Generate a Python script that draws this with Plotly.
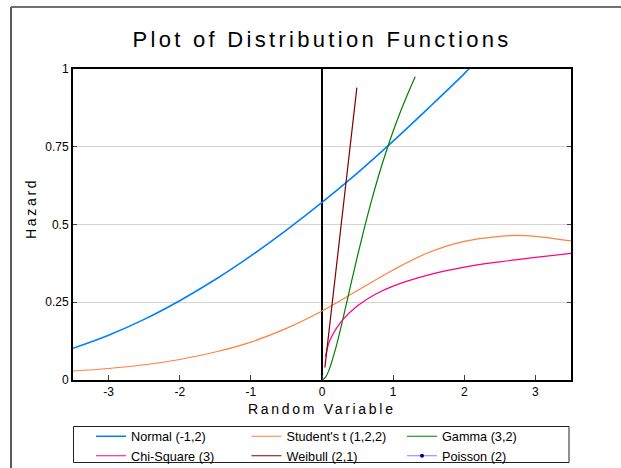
import plotly.graph_objects as go

# ---- data ----
normal_x = [-3.5, -3.0, -2.5, -2.0, -1.5, -1.0, -0.5, 0.0, 0.5, 1.0, 1.5, 2.0, 2.1]
normal_y = [0.102, 0.144, 0.195, 0.255, 0.323, 0.399, 0.482, 0.571, 0.666, 0.768, 0.875, 0.985, 1.01]

student_x = [-3.5, -3.0, -2.5, -2.0, -1.5, -1.0, -0.5, 0.0, 0.5, 1.0, 1.5, 2.0, 2.5, 2.75, 3.0, 3.5]
student_y = [0.029, 0.037, 0.049, 0.066, 0.090, 0.122, 0.166, 0.222, 0.288, 0.354, 0.410, 0.446, 0.462, 0.465, 0.462, 0.447]

gamma_x = [0.0, 0.05, 0.1, 0.2, 0.3, 0.4, 0.5, 0.6, 0.7, 0.8, 0.9, 1.0, 1.1, 1.2, 1.31]
gamma_y = [0.0, 0.009, 0.033, 0.108, 0.202, 0.302, 0.400, 0.493, 0.580, 0.660, 0.733, 0.800, 0.861, 0.917, 0.975]

chisq_x = [0.05, 0.1, 0.2, 0.3, 0.5, 0.75, 1.0, 1.5, 2.0, 2.5, 3.0, 3.5]
chisq_y = [0.075, 0.121, 0.165, 0.196, 0.239, 0.276, 0.302, 0.338, 0.363, 0.380, 0.394, 0.407]

weibull_x = [0.04, 0.1, 0.2, 0.3, 0.4, 0.49]
weibull_y = [0.04, 0.16, 0.36, 0.56, 0.76, 0.94]

poisson_x = [None]
poisson_y = [None]

x_ticks = [-3, -2, -1, 0, 1, 2, 3]
x_tick_text = ["-3", "-2", "-1", "0", "1", "2", "3"]
y_ticks = [0, 0.25, 0.5, 0.75, 1]
y_tick_text = ["0", "0.25", "0.5", "0.75", "1"]

FONT = "Arial, Liberation Sans, sans-serif"

fig = go.Figure()
fig.add_trace(go.Scatter(x=normal_x, y=normal_y, mode="lines", name="Normal (-1,2)",
                         line=dict(color="#0080FF", width=1.6, shape="spline")))
fig.add_trace(go.Scatter(x=student_x, y=student_y, mode="lines", name="Student's t (1,2,2)",
                         line=dict(color="#FF8040", width=1.2, shape="spline")))
fig.add_trace(go.Scatter(x=gamma_x, y=gamma_y, mode="lines", name="Gamma (3,2)",
                         line=dict(color="#008000", width=1.2, shape="spline")))
fig.add_trace(go.Scatter(x=chisq_x, y=chisq_y, mode="lines", name="Chi-Square (3)",
                         line=dict(color="#FF0080", width=1.2, shape="spline")))
fig.add_trace(go.Scatter(x=weibull_x, y=weibull_y, mode="lines", name="Weibull (2,1)",
                         line=dict(color="#800000", width=1.2)))
fig.add_trace(go.Scatter(x=poisson_x, y=poisson_y, mode="lines+markers", name="Poisson (2)",
                         line=dict(color="#8080FF", width=1.2),
                         marker=dict(color="#000080", size=4)))

W, H = 621, 468
L, R, T, B = 73, 571, 69, 380
pw, ph = R - L, B - T

def px_x(p):
    return (p - L) / pw

def px_y(q):
    return (B - q) / ph

fig.update_layout(
    width=W, height=H, autosize=False,
    margin=dict(l=L, r=W - R, t=T, b=H - B, pad=0, autoexpand=False),
    paper_bgcolor="white", plot_bgcolor="white",
    font=dict(family=FONT, size=12, color="black"),
    title=dict(text='<span style="letter-spacing:3.3px">Plot of Distribution Functions</span>',
               x=0.5, xref="paper", xanchor="center",
               y=1 - 39.5 / H, yref="container", yanchor="middle",
               font=dict(family=FONT, size=22, color="black")),
    showlegend=True,
    legend=dict(orientation="h", x=px_x(91), xanchor="left", y=px_y(421.5), yanchor="top",
                entrywidth=110.5, entrywidthmode="pixels",
                bgcolor="rgba(0,0,0,0)", borderwidth=0,
                font=dict(family=FONT, size=12.7, color="black")),
    xaxis=dict(range=[-3.5, 3.5], tickvals=x_ticks, ticktext=x_tick_text, ticks="inside",
               ticklen=5, tickwidth=1,
               tickcolor="#404040", showgrid=False, zeroline=True, zerolinecolor="black",
               zerolinewidth=1.5, showline=True, linecolor="black", linewidth=2, mirror=True,
               tickfont=dict(family=FONT, size=12, color="black")),
    yaxis=dict(range=[0, 1], tickvals=y_ticks, ticktext=y_tick_text, ticks="inside", ticklen=4,
               tickwidth=1, tickcolor="#404040", showgrid=True, gridcolor="#D3D3D3", gridwidth=1,
               zeroline=False, showline=True, linecolor="black", linewidth=2, mirror="ticks",
               tickfont=dict(family=FONT, size=12, color="black")),
)

fig.add_annotation(text='<span style="letter-spacing:2.7px">Random Variable</span>',
                   x=0.5, xref="paper", y=px_y(409), yref="paper",
                   xanchor="center", yanchor="middle", showarrow=False,
                   font=dict(family=FONT, size=14, color="black"))
fig.add_annotation(text='<span style="letter-spacing:2.7px">Hazard</span>',
                   x=px_x(31), xref="paper", y=px_y(209), yref="paper", textangle=-90,
                   xanchor="center", yanchor="middle", showarrow=False,
                   font=dict(family=FONT, size=14, color="black"))

# outer frame (left and top edges of the surrounding panel)
fig.add_shape(type="line", xref="paper", yref="paper", x0=px_x(11), x1=px_x(11),
              y0=px_y(7), y1=px_y(480), line=dict(color="#202020", width=1.5))
fig.add_shape(type="line", xref="paper", yref="paper", x0=px_x(11), x1=px_x(640),
              y0=px_y(7), y1=px_y(7), line=dict(color="#707070", width=2))
# legend box
fig.add_shape(type="rect", xref="paper", yref="paper", x0=px_x(73.5), x1=px_x(569),
              y0=px_y(462.5), y1=px_y(426.5), line=dict(color="#202020", width=1))

fig.write_html("out.html", config={"displayModeBar": False},
               post_script="document.body.style.margin='0';")
